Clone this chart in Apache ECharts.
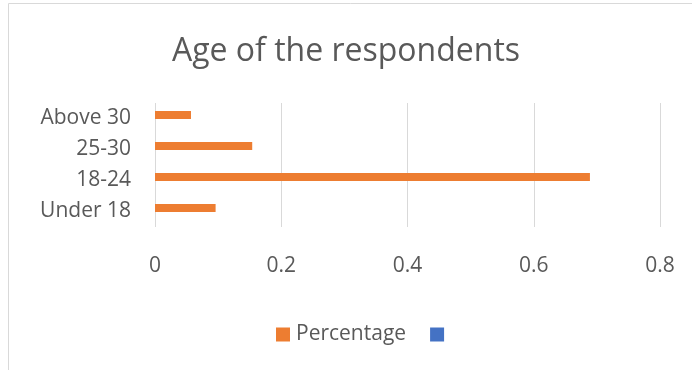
<!DOCTYPE html>
<html>
<head>
<meta charset="utf-8">
<script src="https://cdn.jsdelivr.net/npm/echarts@6/dist/echarts.min.js"></script>
<style>
  html, body { margin: 0; padding: 0; background: #fff; }
  #chart { width: 692px; height: 370px; }
</style>
</head>
<body>
<div id="chart"></div>
<script>
// categories bottom -> top, as on the picture
var ageGroups = ['Under 18', '18-24', '25-30', 'Above 30'];
var percentage = [0.096, 0.689, 0.154, 0.057];
var xTicks = [0, 0.2, 0.4, 0.6, 0.8];

var txt = '#595959';
var font = 'Open Sans';

var myChart = echarts.init(document.getElementById('chart'));
var option = {
    animation: false,
    textStyle: { fontFamily: font },
    title: {
        text: 'Age of the respondents',
        left: 'center',
        top: 31,
        textStyle: { color: txt, fontSize: 32, fontWeight: 'normal', fontFamily: font }
    },
    // chart area border
    graphic: [{
        type: 'rect',
        silent: true,
        shape: { x: 8.5, y: 3.5, width: 720, height: 420 },
        style: { fill: 'none', stroke: '#d9d9d9', lineWidth: 1 }
    }],
    legend: {
        bottom: 20,
        left: 271,
        itemWidth: 14,
        itemHeight: 14,
        itemGap: 24,
        icon: 'rect',
        data: ['Percentage', ' '],
        textStyle: { color: txt, fontSize: 21, fontFamily: font, padding: [0, 0, 0, 1] }
    },
    grid: {
        left: 155,
        right: 32,
        top: 103,
        height: 124
    },
    xAxis: {
        type: 'value',
        min: xTicks[0],
        max: xTicks[xTicks.length - 1],
        interval: 0.2,
        axisLine: { show: false },
        axisTick: { show: false },
        splitLine: { lineStyle: { color: '#d9d9d9' } },
        axisLabel: {
            color: txt,
            fontSize: 21,
            margin: 29,
            formatter: function (v) { return String(Math.round(v * 10) / 10); }
        }
    },
    yAxis: {
        type: 'category',
        data: ageGroups,
        axisLine: { show: false },
        axisTick: { show: false },
        axisLabel: { color: txt, fontSize: 21, margin: 24 }
    },
    series: [
        {
            name: 'Percentage',
            type: 'bar',
            data: percentage,
            barWidth: 8,
            barGap: '-12%',
            itemStyle: { color: '#ED7D31' }
        },
        {
            name: ' ',
            type: 'bar',
            data: [],
            barWidth: 8,
            itemStyle: { color: '#4472C4' }
        }
    ]
};
myChart.setOption(option);
</script>
</body>
</html>
